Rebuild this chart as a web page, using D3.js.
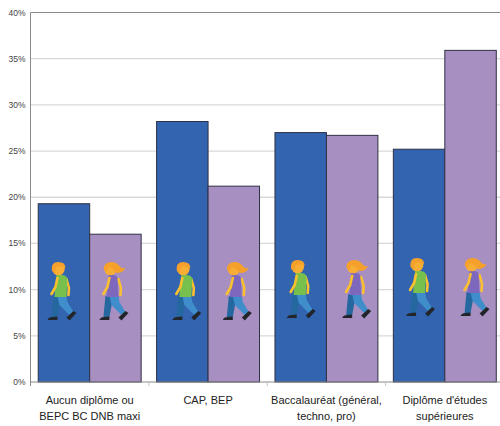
<!DOCTYPE html>
<html><head><meta charset="utf-8">
<script src="https://cdn.jsdelivr.net/npm/d3@7"></script>
<style>html,body{margin:0;padding:0;background:#fff}svg{display:block}text{font-family:"Liberation Sans",Arial,sans-serif}</style>
</head><body><svg id="c" width="500" height="426"></svg>
<script>
const categories = [["Aucun diplôme ou","BEPC BC DNB maxi"],["CAP, BEP"],["Baccalauréat (général,","techno, pro)"],["Diplôme d'études","supérieures"]];
const men = [19.3, 28.2, 27.0, 25.2];
const women = [16.0, 21.2, 26.7, 35.9];
const yTicks = [0,5,10,15,20,25,30,35,40];
const manDx = [-17.5,-11,-15,-14];
const womanDx = [-17,-12,-11,-11];
const figLift = [0,0,2,4];

const svg = d3.select("#c");
const m = {l:30.5, t:12.5, b:382};
const x = d3.scaleBand().domain(d3.range(4)).range([m.l, m.l+473.5]);
const sub = d3.scaleBand().domain(["m","w"]).range([0,x.bandwidth()]).paddingOuter(0.15).paddingInner(0);
const y = d3.scaleLinear().domain([0,40]).range([m.b,m.t]);

svg.append("g").selectAll("line").data(yTicks.slice(1)).join("line")
  .attr("x1",m.l).attr("x2",500).attr("y1",d=>y(d)).attr("y2",d=>y(d))
  .attr("stroke",d=>d===40?"#8a8a8a":"#d9d9d9").attr("stroke-width",d=>d===40?1:1.3);

function bars(vals,key,fill){
  svg.append("g").selectAll("rect").data(vals).join("rect")
    .attr("x",(d,i)=>x(i)+sub(key)).attr("width",sub.bandwidth())
    .attr("y",d=>y(d)).attr("height",d=>y(0)-y(d))
    .attr("fill",fill).attr("stroke","#2f3045").attr("stroke-width",1);
}
bars(men,"m","#3364b0");
bars(women,"w","#a88fc2");

svg.append("line").attr("x1",m.l).attr("x2",m.l).attr("y1",m.t).attr("y2",m.b+4).attr("stroke","#8a8a8a").attr("stroke-width",1);
svg.append("line").attr("x1",m.l).attr("x2",500).attr("y1",m.b).attr("y2",m.b).attr("stroke","#8a8a8a").attr("stroke-width",1);
svg.append("g").selectAll("line").data(d3.range(1,4)).join("line")
  .attr("x1",d=>x(d)).attr("x2",d=>x(d)).attr("y1",m.b).attr("y2",m.b+4).attr("stroke","#c4c4c4");
svg.append("g").selectAll("text").data(yTicks).join("text")
  .attr("x",25.5).attr("y",d=>y(d)+3).attr("text-anchor","end")
  .attr("font-size",8.5).attr("fill","#444").text(d=>d+"%");
svg.append("g").selectAll("text").data(categories).join("text")
  .attr("text-anchor","middle").attr("font-size",11).attr("fill","#222")
  .each(function(d,i){
    const cx = x(i)+x.bandwidth()/2;
    d3.select(this).selectAll("tspan").data(d).join("tspan")
      .attr("x",cx).attr("y",(t,j)=>404+j*16.3).text(t=>t);
  });

// walking figure in local units: origin at figure's top-left, about 30x58
function figure(g,woman){
  const skin="#fbc02d", head="#f8ad34", hair="#f6a02c", shirt=woman?"#7d68bd":"#78c04e";
  const limb=(d,c,w)=>g.append("path").attr("d",d).attr("fill","none").attr("stroke",c).attr("stroke-width",w).attr("stroke-linecap","round").attr("stroke-linejoin","round");
  // back leg
  g.append("path").attr("d","M7 34 L15 34 L11 55 L5 55 Z").attr("fill","#25689f");
  // front leg
  g.append("path").attr("d","M11 34 L20 34 L21 40 L27 50 L23 53 L13 43 Z").attr("fill","#3f8ecb");
  // shoes
  g.append("path").attr("d","M1 58 Q2 55 6 55 L11 54.5 L11 58 Z").attr("fill","#22262a");
  g.append("path").attr("d","M20 55.5 L27 49 L30 51 L23 58.5 Z").attr("fill","#22262a");
  // far arm
  limb("M20 17 L22.5 26 L22 33",skin,2.6);
  // torso
  g.append("path").attr("d",woman?"M10 13 Q18 12 19 16 L20 35 L8 35 Z":"M10 13 Q20 12 21 17 L20 35 L8 35 Z").attr("fill",shirt);
  // near arm
  limb("M11 16 L9 25 L5 32",skin,2.6);
  // head
  g.append("circle").attr("cx",12).attr("cy",7).attr("r",6.3).attr("fill",head);
  if(woman){
    g.append("path").attr("d","M5 7 Q6 0 13 0 Q18 0 21 4 Q23 7 27 6 Q25 11 18 11 Q15 6 10 5 L8 10 Z").attr("fill",hair);
  } else {
    g.append("path").attr("d","M5.5 9 Q4 0 12 0 Q19 0 19 6 Q14 3 10 5 L8.5 11 Z").attr("fill",hair);
  }
}
const place=(key,dx,woman)=>d3.range(4).forEach(i=>{
  const g=svg.append("g").attr("transform",`translate(${x(i)+sub(key)+sub.bandwidth()/2+dx[i]},${262-figLift[i]})`);
  figure(g,woman);
});
place("m",manDx,false);
place("w",womanDx,true);
</script></body></html>
